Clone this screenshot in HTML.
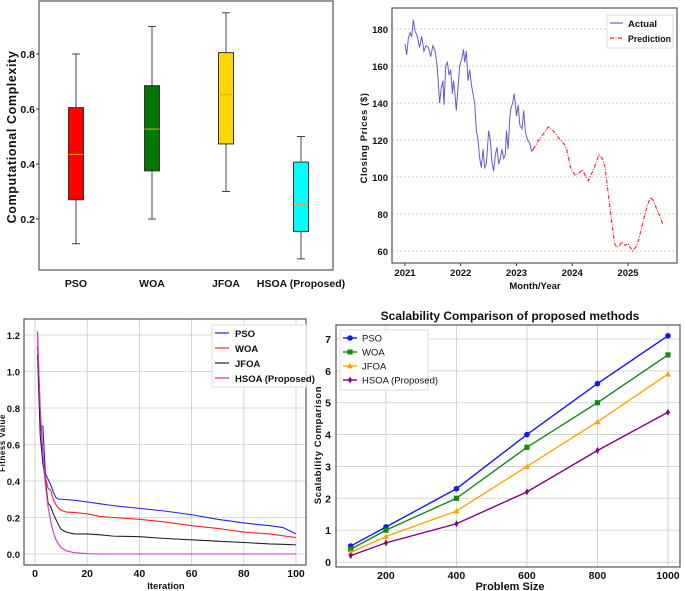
<!DOCTYPE html>
<html><head><meta charset="utf-8">
<style>
html,body{margin:0;padding:0;background:#fff;}
svg{display:block;font-family:"Liberation Sans",sans-serif;}
.t{font-size:10.5px;font-weight:bold;fill:#111;}
.s{font-size:9.5px;font-weight:bold;fill:#111;}
</style></head>
<body>
<svg id="fig" width="685" height="591" viewBox="0 0 685 591" xmlns="http://www.w3.org/2000/svg"></svg>
<script>
// ---- Panel 1: box plot data ----
const boxCats = ["PSO","WOA","JFOA","HSOA (Proposed)"];
const boxWhiskLo = [0.11,0.20,0.30,0.055];
const boxQ1 = [0.27,0.375,0.473,0.155];
const boxMed = [0.435,0.527,0.652,0.252];
const boxQ3 = [0.605,0.685,0.805,0.407];
const boxWhiskHi = [0.80,0.90,0.95,0.50];
const boxColors = ["#ff0000","#007700","#ffd700","#00ffff"];
const boxTicks = [0.2,0.4,0.6,0.8];

// ---- Panel 2: stock data ----
const actualT = [2021.0,2021.03,2021.06,2021.09,2021.12,2021.15,2021.18,2021.22,2021.26,2021.3,2021.34,2021.38,2021.42,2021.46,2021.5,2021.54,2021.57,2021.6,2021.62,2021.65,2021.68,2021.7,2021.73,2021.76,2021.79,2021.82,2021.85,2021.87,2021.89,2021.92,2021.95,2021.98,2022.02,2022.05,2022.07,2022.1,2022.13,2022.16,2022.19,2022.22,2022.25,2022.28,2022.31,2022.34,2022.37,2022.4,2022.43,2022.46,2022.5,2022.53,2022.56,2022.59,2022.62,2022.65,2022.68,2022.71,2022.74,2022.77,2022.8,2022.82,2022.85,2022.88,2022.9,2022.93,2022.96,2023.0,2023.03,2023.06,2023.1,2023.13,2023.16,2023.2,2023.24,2023.27,2023.3];
const actualV = [172,166,175,178,176,185,179,176,170,176,168,171,170,165,171,168,162,150,140,148,152,139,160,162,155,158,145,152,147,136,148,160,164,169,162,168,152,158,150,145,140,125,120,110,105,115,105,107,125,120,108,103,112,116,107,110,115,110,112,125,115,132,137,140,145,133,139,128,126,136,124,120,118,114,115];
const predT = [2023.3,2023.4,2023.5,2023.57,2023.66,2023.76,2023.85,2023.9,2023.97,2024.05,2024.12,2024.18,2024.23,2024.29,2024.38,2024.48,2024.54,2024.59,2024.65,2024.71,2024.76,2024.8,2024.85,2024.89,2024.94,2025.0,2025.04,2025.08,2025.14,2025.19,2025.28,2025.35,2025.41,2025.46,2025.51,2025.57,2025.63];
const predV = [115,120,124,127,125,121,118,115,105,101,102,104,101,98,104,112,110,105,90,75,64,62,63,65,63,64,62,60,62,66,77,85,89,87,83,79,74];
const stockYTicks = [60,80,100,120,140,160,180];
const stockXTicks = [2021,2022,2023,2024,2025];

// ---- Panel 3: convergence data ----
const iters = [1,2,3,4,5,6,7,8,9,10,12,15,20,25,30,40,50,60,70,80,90,95,100];
const fitPSO = [1.14,0.70,0.70,0.44,0.41,0.38,0.34,0.31,0.30,0.30,0.298,0.295,0.285,0.275,0.265,0.25,0.235,0.215,0.19,0.17,0.155,0.145,0.11];
const fitWOA = [1.22,0.75,0.55,0.42,0.36,0.35,0.30,0.27,0.25,0.24,0.23,0.228,0.22,0.205,0.20,0.19,0.175,0.155,0.14,0.12,0.11,0.10,0.09];
const fitJFOA = [1.09,0.65,0.50,0.40,0.28,0.26,0.22,0.19,0.16,0.135,0.12,0.11,0.11,0.105,0.098,0.095,0.085,0.078,0.07,0.063,0.055,0.053,0.05];
const fitHSOA = [1.18,0.80,0.55,0.38,0.26,0.18,0.12,0.08,0.055,0.035,0.017,0.007,0.002,0,0,0,0,0,0,0,0,0,0];
const fitYTicks = [0.0,0.2,0.4,0.6,0.8,1.0,1.2];
const fitXTicks = [0,20,40,60,80,100];

// ---- Panel 4: scalability data ----
const sizes = [100,200,400,600,800,1000];
const scPSO = [0.5,1.1,2.3,4.0,5.6,7.1];
const scWOA = [0.4,1.0,2.0,3.6,5.0,6.5];
const scJFOA = [0.3,0.8,1.6,3.0,4.4,5.9];
const scHSOA = [0.2,0.6,1.2,2.2,3.5,4.7];
const scYTicks = [0,1,2,3,4,5,6,7];
const scXTicks = [200,400,600,800,1000];

const NS = "http://www.w3.org/2000/svg";
const fig = document.getElementById("fig");
function mk(tag, attrs, parent, text){
  const e = document.createElementNS(NS, tag);
  for (const k in attrs) e.setAttribute(k, attrs[k]);
  if (text !== undefined) e.textContent = text;
  (parent || fig).appendChild(e);
  return e;
}
function grp(){ return mk("g", {}); }

// ===== Panel 1 =====
(function(){
  const g = grp();
  
  
  const x0=39,x1=333,yT=1,yB=270;
  const ys = v => 219-(v-0.2)*275;
  const xs = i => [76,152,226,301][i];
  const fr = mk("rect",{x:x0,y:yT,width:x1-x0,height:yB-yT,fill:"none",stroke:"#555","stroke-width":1.2},g);
  
  
  boxTicks.forEach(v=>{
    const t = mk("text",{x:x0-4,y:ys(v)+4,"text-anchor":"end",class:"t"},g,v.toFixed(1));
    
    
    mk("line",{x1:x0-3,x2:x0,y1:ys(v),y2:ys(v),stroke:"#333"},g);
  });
  boxCats.forEach((c,i)=>{
    const cx = xs(i), w=15;
    const wl = mk("line",{x1:cx,x2:cx,y1:ys(boxWhiskHi[i]),y2:ys(boxWhiskLo[i]),stroke:"#444","stroke-width":1},g);
    
    
    mk("line",{x1:cx-4,x2:cx+4,y1:ys(boxWhiskHi[i]),y2:ys(boxWhiskHi[i]),stroke:"#444"},g);
    mk("line",{x1:cx-4,x2:cx+4,y1:ys(boxWhiskLo[i]),y2:ys(boxWhiskLo[i]),stroke:"#444"},g);
    const b = mk("rect",{x:cx-w/2,y:ys(boxQ3[i]),width:w,height:ys(boxQ1[i])-ys(boxQ3[i]),fill:boxColors[i],stroke:"#333","stroke-width":1},g);
    
    
    const m = mk("line",{x1:cx-w/2,x2:cx+w/2,y1:ys(boxMed[i]),y2:ys(boxMed[i]),stroke:"#f5a020","stroke-width":1},g);
    
    
    const t = mk("text",{x:cx,y:287,"text-anchor":"middle",class:"t"},g,c);
    
    
  });
  const yl = mk("text",{x:0,y:0,transform:"translate(16,137) rotate(-90)","text-anchor":"middle",style:"font-size:12.5px;font-weight:bold;letter-spacing:0.6px",fill:"#111"},g,"Computational Complexity");
  
  
})();

// ===== Panel 2 =====
(function(){
  const g = grp();
  
  
  const x0=392,x1=677,yT=8,yB=263;
  const ys = v => 251-(v-60)*(222/120);
  const xs = t => 405+(t-2021)*55.75;
  stockYTicks.forEach(v=>{
    const gl = mk("line",{x1:x0,x2:x1,y1:ys(v),y2:ys(v),stroke:"#bbb","stroke-dasharray":"2,2","stroke-width":0.8},g);
    
    
    const t = mk("text",{x:x0-4,y:ys(v)+4,"text-anchor":"end",class:"s"},g,v);
    
    
  });
  stockXTicks.forEach(v=>{
    mk("line",{x1:xs(v),x2:xs(v),y1:yB,y2:yB+3,stroke:"#333"},g);
    const t = mk("text",{x:xs(v),y:276,"text-anchor":"middle",class:"s"},g,v);
    
    
  });
  const fr = mk("rect",{x:x0,y:yT,width:x1-x0,height:yB-yT,fill:"none",stroke:"#555","stroke-width":1.2},g);
  
  
  const a = mk("polyline",{points:actualT.map((t,i)=>xs(t)+","+ys(actualV[i])).join(" "),fill:"none",stroke:"#6a5acd","stroke-width":1},g);
  
  
  const p = mk("polyline",{points:predT.map((t,i)=>xs(t)+","+ys(predV[i])).join(" "),fill:"none",stroke:"#ff2020","stroke-width":1.1,"stroke-dasharray":"4,1.5,1,1.5"},g);
  
  
  const lg = mk("rect",{x:607,y:15,width:66,height:33,fill:"#fff",stroke:"#ddd"},g);
  
  
  mk("line",{x1:610,x2:623,y1:23,y2:23,stroke:"#6a5acd","stroke-width":1.2},g);
  const l1 = mk("text",{x:628,y:27,class:"s"},g,"Actual");
  
  
  mk("line",{x1:610,x2:623,y1:38,y2:38,stroke:"#ff2020","stroke-width":1.2,"stroke-dasharray":"4,1.5,1,1.5"},g);
  const l2 = mk("text",{x:628,y:42,class:"s",textLength:43,lengthAdjust:"spacingAndGlyphs"},g,"Prediction");
  
  
  const yl = mk("text",{x:0,y:0,transform:"translate(367,138) rotate(-90)","text-anchor":"middle",style:"font-size:9.5px;font-weight:bold;letter-spacing:0.6px",fill:"#111"},g,"Closing Prices ($)");
  
  
  const xl = mk("text",{x:535,y:289,"text-anchor":"middle",class:"s"},g,"Month/Year");
  
  
})();

// ===== Panel 3 =====
(function(){
  const g = grp();
  
  
  const x0=24,x1=306,yT=319,yB=565;
  const ys = v => 554-v*(219/1.2);
  const xs = t => 35+t*2.61;
  fitYTicks.forEach(v=>{
    const gl = mk("line",{x1:x0,x2:x1,y1:ys(v),y2:ys(v),stroke:"#ccc","stroke-width":0.8},g);
    
    
    const t = mk("text",{x:x0-4,y:ys(v)+4,"text-anchor":"end",class:"s"},g,v.toFixed(1));
    
    
  });
  fitXTicks.forEach(v=>{
    mk("line",{x1:xs(v),x2:xs(v),y1:yT,y2:yB,stroke:"#ccc","stroke-width":0.8},g);
    const t = mk("text",{x:xs(v),y:577,"text-anchor":"middle",class:"t"},g,v);
    
    
  });
  const fr = mk("rect",{x:x0,y:yT,width:x1-x0,height:yB-yT,fill:"none",stroke:"#555","stroke-width":1.2},g);
  
  
  const series = [[fitPSO,"#2020ff","pso"],[fitWOA,"#ff2020","woa"],[fitJFOA,"#222","jfoa"],[fitHSOA,"#cc33cc","hsoa"]];
  series.forEach(s=>{
    const l = mk("polyline",{points:iters.map((t,i)=>xs(t)+","+ys(s[0][i])).join(" "),fill:"none",stroke:s[1],"stroke-width":1.1},g);
    
    
  });
  const lg = mk("rect",{x:212,y:325,width:94,height:62,fill:"#fff",stroke:"#ddd"},g);
  
  
  const names = ["PSO","WOA","JFOA","HSOA (Proposed)"];
  series.forEach((s,i)=>{
    const y = 333+i*15;
    mk("line",{x1:215,x2:229,y1:y,y2:y,stroke:s[1],"stroke-width":1.2},g);
    const t = mk("text",{x:235,y:y+4,class:"s"},g,names[i]);
    
    
  });
  const yl = mk("text",{x:0,y:0,transform:"translate(5,443) rotate(-90)","text-anchor":"middle",style:"font-size:8px;font-weight:bold;letter-spacing:0.5px",fill:"#111"},g,"Fitness Value");
  
  
  const xl = mk("text",{x:166,y:589,"text-anchor":"middle",class:"s"},g,"Iteration");
  
  
})();

// ===== Panel 4 =====
(function(){
  const g = grp();
  
  
  const x0=336,x1=680,yT=325,yB=567;
  const ys = v => 562-v*(223/7);
  const xs = t => 350.7+(t-100)*0.3525;
  scYTicks.forEach(v=>{
    const gl = mk("line",{x1:x0,x2:x1,y1:ys(v),y2:ys(v),stroke:"#ccc","stroke-width":0.8},g);
    
    
    const t = mk("text",{x:x0-5,y:ys(v)+4,"text-anchor":"end",class:"t"},g,v);
    
    
  });
  scXTicks.forEach(v=>{
    mk("line",{x1:xs(v),x2:xs(v),y1:yT,y2:yB,stroke:"#ccc","stroke-width":0.8},g);
    const t = mk("text",{x:xs(v),y:579,"text-anchor":"middle",class:"t"},g,v);
    
    
  });
  const fr = mk("rect",{x:x0,y:yT,width:x1-x0,height:yB-yT,fill:"none",stroke:"#555","stroke-width":1.2},g);
  
  
  const series = [[scPSO,"#1515ff","pso","o"],[scWOA,"#138813","woa","s"],[scJFOA,"#ffa500","jfoa","^"],[scHSOA,"#800080","hsoa","d"]];
  function marker(x,y,type,col){
    if(type==="o") return mk("circle",{cx:x,cy:y,r:2.8,fill:col},g);
    if(type==="s") return mk("rect",{x:x-2.6,y:y-2.6,width:5.2,height:5.2,fill:col},g);
    if(type==="^") return mk("polygon",{points:`${x},${y-3.2} ${x-3},${y+2.4} ${x+3},${y+2.4}`,fill:col},g);
    return mk("polygon",{points:`${x},${y-3.5} ${x-2},${y} ${x},${y+3.5} ${x+2},${y}`,fill:col},g);
  }
  series.forEach(s=>{
    const l = mk("polyline",{points:sizes.map((t,i)=>xs(t)+","+ys(s[0][i])).join(" "),fill:"none",stroke:s[1],"stroke-width":1.4},g);
    
    
    sizes.forEach((t,i)=>{
      const m = marker(xs(t),ys(s[0][i]),s[3],s[1]);
      
      
    });
  });
  const lg = mk("rect",{x:340,y:330,width:88,height:60,fill:"#fff",stroke:"#ddd"},g);
  
  
  const names = ["PSO","WOA","JFOA","HSOA (Proposed)"];
  series.forEach((s,i)=>{
    const y = 338+i*14;
    mk("line",{x1:343,x2:357,y1:y,y2:y,stroke:s[1],"stroke-width":1.4},g);
    marker(350,y,s[3],s[1]);
    const t = mk("text",{x:362,y:y+3.5,style:"font-size:9.5px",fill:"#111"},g,names[i]);
    
    
  });
  const ti = mk("text",{x:510,y:320,"text-anchor":"middle",style:"font-size:12px;font-weight:bold",fill:"#111"},g,"Scalability Comparison of proposed methods");
  
  
  const yl = mk("text",{x:0,y:0,transform:"translate(321,445) rotate(-90)","text-anchor":"middle",style:"font-size:9.5px;font-weight:bold;letter-spacing:0.6px",fill:"#111"},g,"Scalability Comparison");
  
  
  const xl = mk("text",{x:510,y:590,"text-anchor":"middle",style:"font-size:11px;font-weight:bold",fill:"#111"},g,"Problem Size");
  
  
})();
</script>
</body></html>
